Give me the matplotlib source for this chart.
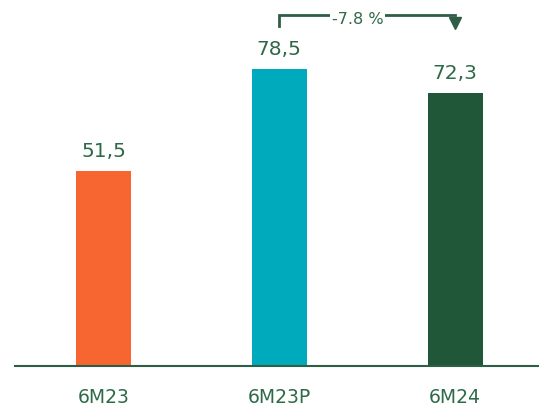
import numpy as np
import matplotlib.pyplot as plt

# chart data
categories = ['6M23', '6M23P', '6M24']
values = [51.5, 78.5, 72.3]
value_labels = ['51,5', '78,5', '72,3']
bar_colors = ['#F76530', '#00AABD', '#1F5738']
change_label = '-7.8 %'

txt_color = '#2F6A48'
line_color = '#2E5E45'

fig = plt.figure(figsize=(5.39, 4.12), dpi=100)
ax = fig.add_axes([15/539, 46/412, 524/539, 366/412])

x = np.arange(len(categories))
ax.bar(x, values, width=0.3125, color=bar_colors, zorder=2)

for xi, v, lab in zip(x, values, value_labels):
    ax.text(xi, v + 2.6, lab, ha='center', va='bottom', fontsize=14.5, color=txt_color)

ax.set_xlim(-0.503, 2.477)
ax.set_ylim(0, 96.8)

# change bracket from 6M23P to 6M24
y_top = 92.9
ax.plot([1, 1, 2], [90.0, y_top, y_top], color=line_color, lw=2, clip_on=False,
        solid_joinstyle='miter')
ax.plot([2], [90.6], marker='v', markersize=9, color=line_color, clip_on=False)
ax.text(1.445, y_top - 1.2, change_label, ha='center', va='center', fontsize=11.5,
        color=txt_color, bbox=dict(facecolor='white', edgecolor='none', pad=1.5))

for s in ['top', 'right', 'left']:
    ax.spines[s].set_visible(False)
ax.spines['bottom'].set_color(line_color)
ax.spines['bottom'].set_linewidth(1.5)
ax.set_yticks([])
ax.set_xticks(x)
ax.set_xticklabels(categories, fontsize=13.5, color=txt_color)
ax.tick_params(axis='x', length=0, pad=16)

plt.savefig('out.png', dpi=100)
